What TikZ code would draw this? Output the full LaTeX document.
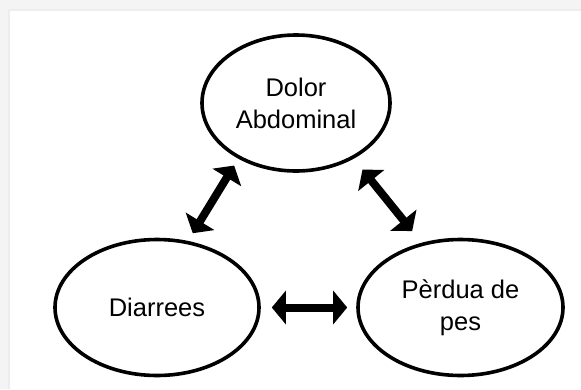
\documentclass[tikz,border=0pt]{standalone}
\usepackage{fontspec}
\setmainfont{Liberation Sans}
\usetikzlibrary{shapes.geometric, arrows.meta, positioning}

\begin{document}
\begin{tikzpicture}[x=1pt, y=-1pt,
    symptom/.style={draw=black, line width=3.6pt, ellipse, minimum width=#1, minimum height=136pt,
      inner sep=0pt, align=center, font=\fontsize{25.5}{32}\selectfont},
    link/.style={line width=8pt, {Triangle[length=14pt,width=33pt]}-{Triangle[length=14pt,width=33pt]}}]
  % page and panel
  \fill[gray!9] (0,0) rectangle (581,389);
  \fill[gray!14] (8,9) rectangle (581,389);
  \fill[white] (10,11) rectangle (581,389);
  \useasboundingbox (0,0) rectangle (581,389);

  % the three symptoms
  \node[symptom=188pt] (dolor) at (296,103) {Dolor\\Abdominal};
  \node[symptom=204pt] (diarr) at (157,307.5) {Diarrees};
  \node[symptom=205pt] (pes) at (460.5,307.5) {Pèrdua de\\pes};

  % links
  \draw[link, shorten <=9pt, shorten >=8pt] (diarr.65) -- (dolor.224.5);
  \draw[link, shorten <=14pt, shorten >=15pt] (dolor.316.7) -- (pes.121.5);
  \draw[link, shorten <=11pt, shorten >=9pt] (diarr.east) -- (pes.west);
\end{tikzpicture}
\end{document}
